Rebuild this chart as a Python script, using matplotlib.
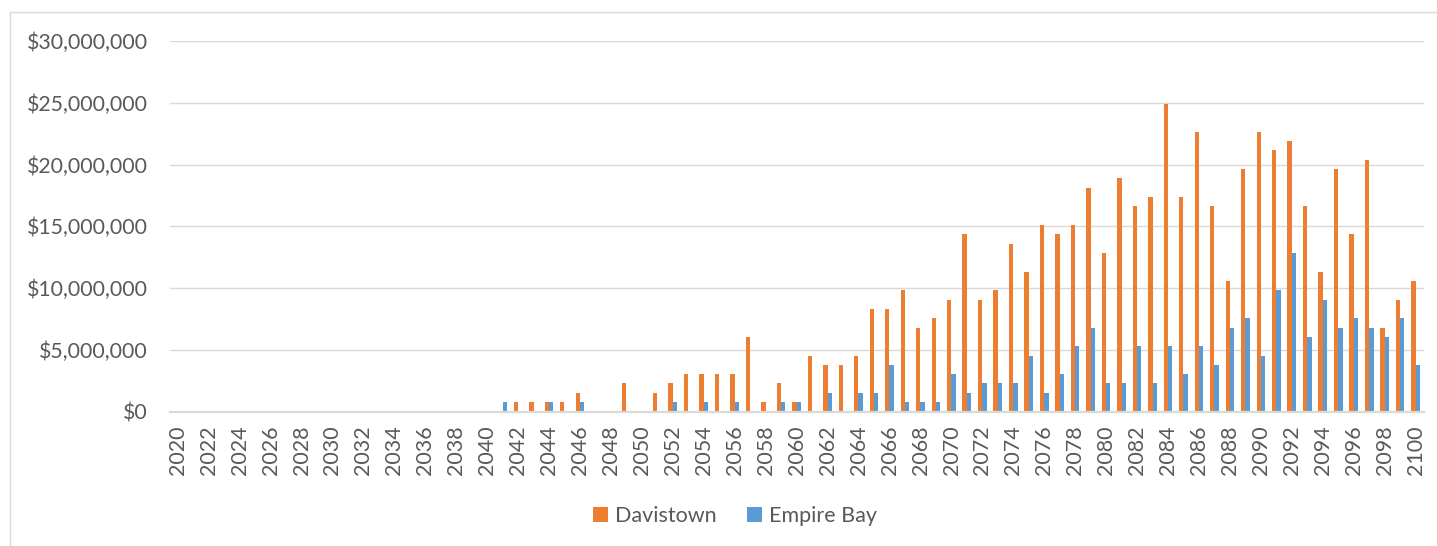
import matplotlib.pyplot as plt
from matplotlib.patches import Rectangle
from matplotlib.ticker import FuncFormatter
import numpy as np

years = list(range(2020, 2101))

# values in $ millions
davistown = [0] * 21 + [
    0, 0.76, 0.76, 0.76, 0.76, 1.51, 0, 0, 2.27, 0,            # 2041-2050
    1.51, 2.27, 3.02, 3.02, 3.02, 3.02, 6.04, 0.76, 2.27, 0.76,  # 2051-2060
    4.53, 3.78, 3.78, 4.53, 8.31, 8.31, 9.82, 6.80, 7.55, 9.06,  # 2061-2070
    14.35, 9.06, 9.82, 13.59, 11.33, 15.10, 14.35, 15.10, 18.12, 12.84,  # 2071-2080
    18.88, 16.61, 17.37, 24.92, 17.37, 22.65, 16.61, 10.57, 19.63, 22.65,  # 2081-2090
    21.14, 21.90, 16.61, 11.33, 19.63, 14.35, 20.39, 6.80, 9.06, 10.57,   # 2091-2100
]
empire_bay = [0] * 21 + [
    0.76, 0, 0, 0.76, 0, 0.76, 0, 0, 0, 0,                  # 2041-2050
    0, 0.76, 0, 0.76, 0, 0.76, 0, 0, 0.76, 0.76,            # 2051-2060
    0, 1.51, 0, 1.51, 1.51, 3.78, 0.76, 0.76, 0.76, 3.02,   # 2061-2070
    1.51, 2.27, 2.27, 2.27, 4.53, 1.51, 3.02, 5.29, 6.80, 2.27,  # 2071-2080
    2.27, 5.29, 2.27, 5.29, 3.02, 5.29, 3.78, 6.80, 7.55, 4.53,  # 2081-2090
    9.82, 12.84, 6.04, 9.06, 6.80, 7.55, 6.80, 6.04, 7.55, 3.78,  # 2091-2100
]

ORANGE = "#ED7D31"
BLUE = "#5B9BD5"
TXT = "#595959"
FONT = "Lato"

fig = plt.figure(figsize=(14.37, 5.46), dpi=100)
fig.patches.append(Rectangle((10 / 1437, -0.1), 1.2, 1.1 - 12 / 546,
                             transform=fig.transFigure, fill=False,
                             edgecolor="#D9D9D9", linewidth=1.0))

ax = fig.add_axes([170 / 1437, 1 - 411.5 / 546, 1253.5 / 1437, 370.5 / 546])

x = np.arange(len(years))
w = 0.28
d = np.array(davistown) * 1e6
e = np.array(empire_bay) * 1e6
ax.bar(x - 0.15, d, w, color=ORANGE, label="Davistown", zorder=3)
ax.bar(x + 0.13, e, w, color=BLUE, label="Empire Bay", zorder=3)

ax.set_xlim(-0.5, len(years) - 0.5)
ax.set_ylim(0, 30e6)
ax.set_yticks(np.arange(0, 30e6 + 1, 5e6))
ax.yaxis.set_major_formatter(FuncFormatter(lambda v, p: "${:,.0f}".format(v)))
ax.set_xticks(x[::2])
ax.set_xticklabels([str(y) for y in years[::2]], rotation=90)

ax.grid(axis="y", color="#D9D9D9", linewidth=1.0, zorder=0)
for s in ["top", "right", "left"]:
    ax.spines[s].set_visible(False)
ax.spines["bottom"].set_color("#D9D9D9")
ax.spines["bottom"].set_linewidth(1.6)
ax.spines["bottom"].set_zorder(4)

ax.tick_params(axis="y", length=0, pad=16, labelsize=15.3, labelcolor=TXT)
ax.tick_params(axis="x", length=0, pad=10, labelsize=15.5, labelcolor=TXT)
for lab in ax.get_xticklabels() + ax.get_yticklabels():
    lab.set_fontfamily(FONT)

leg = fig.legend(loc="center", bbox_to_anchor=(735 / 1437, 1 - 516 / 546),
                 ncol=2, frameon=False, handlelength=0.7, handleheight=0.7,
                 handletextpad=0.35, columnspacing=1.4,
                 prop={"family": FONT, "size": 15.5})
for t in leg.get_texts():
    t.set_color(TXT)

fig.savefig("out.png", dpi=100)
